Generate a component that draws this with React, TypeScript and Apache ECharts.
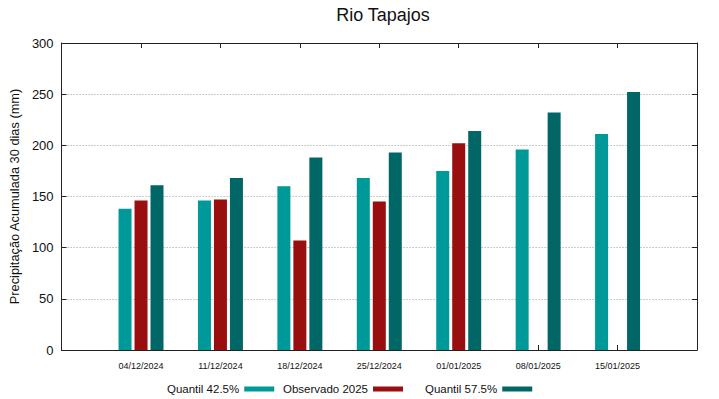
import React, { useEffect, useRef } from "react";
import * as echarts from "echarts";

const categories = ["04/12/2024", "11/12/2024", "18/12/2024", "25/12/2024", "01/01/2025", "08/01/2025", "15/01/2025"];
const quantil425 = [138, 146, 160, 168, 175, 196, 211];
const observado2025: (number | null)[] = [146, 147, 107, 145, 202, null, null];
const quantil575 = [161, 168, 188, 193, 214, 232, 252];
const yTicks = [0, 50, 100, 150, 200, 250, 300];

const FONT = "Liberation Sans, Arial, sans-serif";

export default function App() {
  const ref = useRef<HTMLDivElement>(null);
  useEffect(() => {
    if (!ref.current) return;
    const chart = echarts.init(ref.current, undefined, { renderer: "svg" });
    const toPts = (arr: (number | null)[]) =>
      arr.map((v, i) => (v == null ? null : [i + 1, v])).filter((p) => p !== null);
    const legendCommon = {
      orient: "horizontal",
      align: "right",
      icon: "rect",
      itemWidth: 30,
      itemHeight: 5,
      top: 378,
      textStyle: { fontFamily: FONT, fontSize: 11.5, color: "#111" },
    };
    const lineStyle = { color: "#222", width: 1 };
    chart.setOption({
      animation: false,
      textStyle: { fontFamily: FONT },
      title: {
        text: "Rio Tapajos",
        left: 378,
        textAlign: "center",
        top: 1,
        textStyle: { fontFamily: FONT, fontSize: 18, fontWeight: "normal", color: "#111" },
      },
      legend: [
        { ...legendCommon, left: 162, data: ["Quantil 42.5%"] },
        { ...legendCommon, left: 278, data: ["Observado 2025"] },
        { ...legendCommon, left: 420, data: ["Quantil 57.5%"] },
      ],
      grid: { left: 59, right: 22, top: 43, bottom: 49, containLabel: false },
      xAxis: [
        {
          type: "value",
          min: 0,
          max: 8,
          interval: 1,
          position: "bottom",
          axisLine: { show: true, onZero: false, lineStyle },
          axisTick: { show: true, inside: true, length: 5, lineStyle },
          splitLine: { show: false },
          axisLabel: {
            fontSize: 9,
            color: "#111",
            margin: 11,
            formatter: (v: number) => (v >= 1 && v <= categories.length ? categories[v - 1] : ""),
          },
        },
        {
          type: "value",
          min: 0,
          max: 8,
          interval: 1,
          position: "top",
          axisLine: { show: true, onZero: false, lineStyle },
          axisTick: { show: true, inside: true, length: 5, lineStyle },
          splitLine: { show: false },
          axisLabel: { show: false },
        },
      ],
      yAxis: [
        {
          type: "value",
          min: 0,
          max: 300,
          interval: 50,
          position: "left",
          name: "Precipitação Acumulada 30 dias (mm)",
          nameLocation: "middle",
          nameGap: 33,
          nameTextStyle: { fontFamily: FONT, fontSize: 12.8, color: "#111" },
          axisLine: { show: true, onZero: false, lineStyle },
          axisTick: { show: true, inside: true, length: 5, lineStyle },
          axisLabel: {
            fontSize: 13,
            color: "#111",
            margin: 8,
            formatter: (v: number) => (yTicks.includes(v) ? String(v) : ""),
          },
          splitLine: { show: true, lineStyle: { color: "#9a9a9a", type: [1, 2], width: 1 } },
        },
        {
          type: "value",
          min: 0,
          max: 300,
          interval: 50,
          position: "right",
          axisLine: { show: true, onZero: false, lineStyle },
          axisTick: { show: true, inside: true, length: 5, lineStyle },
          axisLabel: { show: false },
          splitLine: { show: false },
        },
      ],
      series: [
        {
          name: "Quantil 42.5%",
          type: "bar",
          xAxisIndex: 0,
          yAxisIndex: 0,
          barWidth: 13,
          barGap: "23%",
          itemStyle: { color: "#009999" },
          data: toPts(quantil425),
        },
        {
          name: "Observado 2025",
          type: "bar",
          xAxisIndex: 0,
          yAxisIndex: 0,
          barWidth: 13,
          barGap: "23%",
          itemStyle: { color: "#990f0f" },
          data: toPts(observado2025),
        },
        {
          name: "Quantil 57.5%",
          type: "bar",
          xAxisIndex: 0,
          yAxisIndex: 0,
          barWidth: 13,
          barGap: "23%",
          itemStyle: { color: "#006666" },
          data: toPts(quantil575),
        },
      ],
    });
    return () => chart.dispose();
  }, []);
  return <div ref={ref} style={{ width: 719, height: 399, position: "absolute", left: 0, top: 0 }} />;
}
